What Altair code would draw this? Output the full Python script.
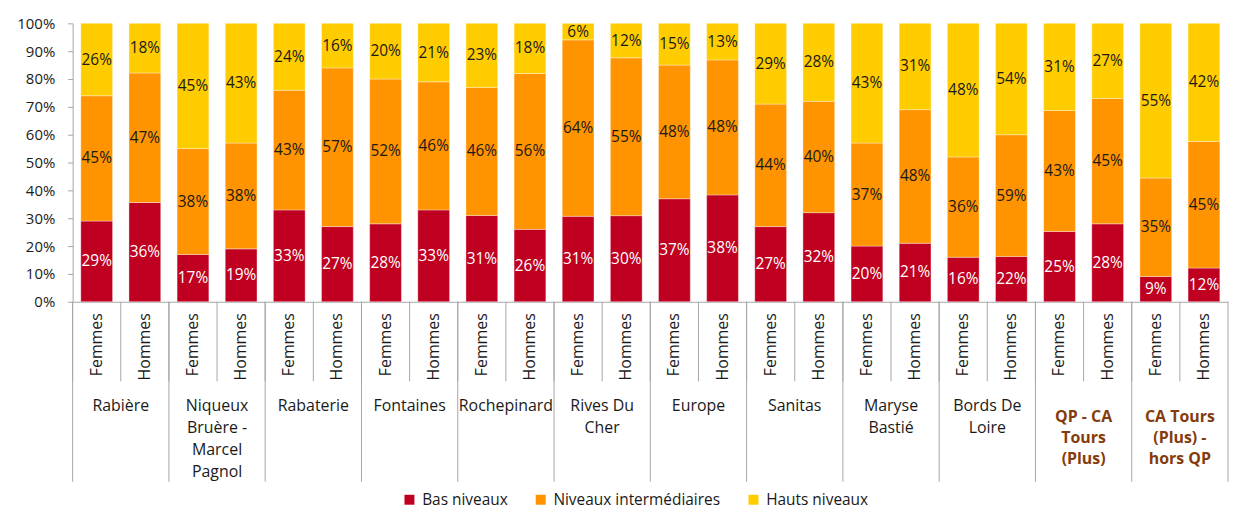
import altair as alt
import pandas as pd

# ---------------- data ----------------
groups = ["Rabière", "Niqueux Bruère - Marcel Pagnol", "Rabaterie", "Fontaines",
          "Rochepinard", "Rives Du Cher", "Europe", "Sanitas", "Maryse Bastié",
          "Bords De Loire", "QP - CA Tours (Plus)", "CA Tours (Plus) - hors QP"]
group_labels = ["Rabière", "Niqueux\nBruère -\nMarcel\nPagnol", "Rabaterie", "Fontaines",
                "Rochepinard", "Rives Du\nCher", "Europe", "Sanitas", "Maryse\nBastié",
                "Bords De\nLoire", "QP - CA\nTours\n(Plus)", "CA Tours\n(Plus) -\nhors QP"]
highlight = [False] * 10 + [True] * 2
sexes = ["Femmes", "Hommes"]
levels = ["Bas niveaux", "Niveaux intermédiaires", "Hauts niveaux"]
colors = ["#C00020", "#FF9300", "#FFCC00"]

# one value per bar: (group1 F, group1 H, group2 F, ...)
bas = [29, 36, 17, 19, 33, 27, 28, 33, 31, 26, 31, 30, 37, 38, 27, 32, 20, 21, 16, 22, 25, 28, 9, 12]
inter = [45, 47, 38, 38, 43, 57, 52, 46, 46, 56, 64, 55, 48, 48, 44, 40, 37, 48, 36, 59, 43, 45, 35, 45]
haut = [26, 18, 45, 43, 24, 16, 20, 21, 23, 18, 6, 12, 15, 13, 29, 28, 43, 31, 48, 54, 31, 27, 55, 42]

# ---------------- tables ----------------
keys = []
rows = []
for gi, g in enumerate(groups):
    for si, s in enumerate(sexes):
        idx = gi * 2 + si
        key = f"{g}|{s}"
        keys.append(key)
        for li, (lvl, vals) in enumerate(zip(levels, [bas, inter, haut])):
            rows.append(dict(key=key, group=g, sex=s, level=lvl, order=li, value=vals[idx]))
df = pd.DataFrame(rows)

grp_df = pd.DataFrame({
    "key": [f"{g}|Femmes" for g in groups],
    "label": group_labels,
    "hl": highlight,
})
keys_df = pd.DataFrame({"key": keys})
last_df = pd.DataFrame({"key": [keys[-1]]})

W, H = 1162, 280
GRAY = "#a6a6a6"
TXT = "#1a1a1a"

x_scale = alt.Scale(domain=keys, paddingInner=0, paddingOuter=0)
x_axis = alt.Axis(title=None, labelExpr="split(datum.value, '|')[1]", labelAngle=270,
                  ticks=False, labelPadding=11, labelFontSize=16, labelColor=TXT,
                  domainColor=GRAY, domainWidth=1, grid=False)
y_scale = alt.Scale(domain=[0, 1])
y_axis = alt.Axis(title=None, format=".0%", values=[i / 10 for i in range(11)], grid=False,
                  tickSize=5, tickColor=GRAY, domainColor=GRAY, labelPadding=13,
                  labelFontSize=15, labelColor=TXT)


def xenc(band=None):
    if band is None:
        return alt.X("key:N", sort=keys, scale=x_scale, axis=x_axis)
    return alt.X("key:N", sort=keys, scale=x_scale, axis=x_axis, bandPosition=band)


bars = alt.Chart(df).mark_bar(width=alt.RelativeBandSize(0.66), stroke="#ffffff",
                              strokeWidth=0.6, strokeOpacity=0.6).encode(
    x=xenc(),
    y=alt.Y("value:Q", stack="normalize", scale=y_scale, axis=y_axis),
    color=alt.Color("level:N", scale=alt.Scale(domain=levels, range=colors),
                    legend=alt.Legend(title=None, orient="none", legendX=331, legendY=471,
                                      direction="horizontal", symbolType="square",
                                      symbolSize=100, symbolStrokeWidth=0,
                                      labelFontSize=15.5, labelColor=TXT, labelOffset=5,
                                      labelLimit=0, columnPadding=25)),
    order=alt.Order("order:Q", sort="ascending"),
)

labels = alt.Chart(df).transform_joinaggregate(
    total="sum(value)", groupby=["key"]
).transform_calculate(
    frac="datum.value / datum.total"
).transform_window(
    cum="sum(frac)", sort=[alt.SortField("order")], groupby=["key"], frame=[None, 0]
).transform_calculate(
    mid="datum.cum - datum.frac / 2", lab="datum.value + '%'"
).mark_text(fontSize=15.5, baseline="middle", align="center").encode(
    x=xenc(),
    y=alt.Y("mid:Q", scale=y_scale, axis=y_axis),
    text="lab:N",
    color=alt.condition("datum.order == 0", alt.value("#ffffff"), alt.value(TXT)),
)

sub_rules = alt.Chart(keys_df).mark_rule(color=GRAY, strokeWidth=1).encode(
    x=xenc(0), y=alt.value(H), y2=alt.value(H + 80))

grp_rules = alt.Chart(grp_df).mark_rule(color=GRAY, strokeWidth=1).encode(
    x=xenc(0), y=alt.value(H), y2=alt.value(H + 181))

last_rule = alt.Chart(last_df).mark_rule(color=GRAY, strokeWidth=1).encode(
    x=xenc(1), y=alt.value(H), y2=alt.value(H + 181))

grp_text = alt.Chart(grp_df).transform_filter("!datum.hl").mark_text(
    lineBreak="\n", baseline="top", align="center", fontSize=16, lineHeight=22,
    color=TXT).encode(x=xenc(1), y=alt.value(H + 97), text="label:N")

grp_text_hl = alt.Chart(grp_df).transform_filter("datum.hl").mark_text(
    lineBreak="\n", baseline="top", align="center", fontSize=16, lineHeight=21.3,
    fontWeight="bold", color="#843C0C").encode(x=xenc(1), y=alt.value(H + 108), text="label:N")

chart = alt.layer(bars, labels, sub_rules, grp_rules, last_rule, grp_text, grp_text_hl).properties(
    width=W, height=H,
    autosize=alt.AutoSizeParams(type="none"),
    padding={"left": 65, "top": 14, "right": 3, "bottom": 208},
).configure(font="Open Sans").configure_view(stroke=None)

chart.save("out.html", embed_options={"renderer": "svg", "actions": False})
